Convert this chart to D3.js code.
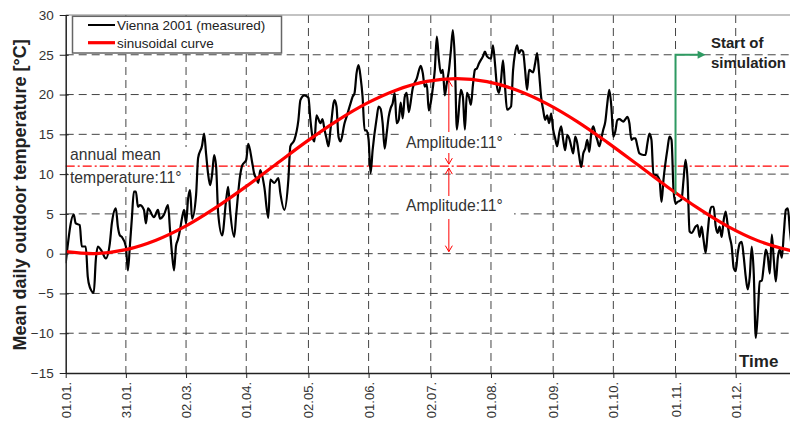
<!DOCTYPE html>
<html><head><meta charset="utf-8">
<script src="https://cdn.jsdelivr.net/npm/d3@7"></script>
<style>
body{margin:0;background:#fff}
svg{display:block;font-family:"Liberation Sans",Arial,Helvetica,sans-serif}
</style>
</head><body>
<svg id="chart" width="790" height="421"></svg>
<script>
// ---- data (day of year 2001, 0 = 1 January) ----
const measuredDays = [
0,4,5,7,8,10,11,12,14,15,16,18,20,22,23,25,26,27,28,30,31,32,33,34,35,36,37,39,40,41,
44,46,47,49,51,52,53,54,55,56,57,58,59,60,61,62,63,65,66,68,69,70,71,72,73,74,75,76,78,80,81,82,84,85,87,88,90,91,93,94,95,96,97,99,101,102,104,106,107,109,111,112,114,116,117,119,121,122,123,124,125,
127,128,129,130,131,132,134,135,136,137,139,140,142,143,144,145,146,147,148,149,150,151,152,153,155,156,157,158,159,160,161,162,163,164,165,166,167,168,169,170,171,172,173,175,177,178,179,180,181,182,183,184,185,186,187,188,189,190,191,192,193,194,195,197,198,199,200,201,202,203,204,205,206,208,209,210,
212,213,214,215,216,217,218,219,220,222,223,224,225,226,227,228,229,230,231,233,234,235,236,237,238,239,240,241,242,243,244,245,246,247,248,249,250,251,252,253,254,255,256,257,258,259,260,261,262,263,264,265,266,267,268,269,270,271,272,273,274,275,276,278,279,280,281,282,283,284,285,286,288,289,290,291,292,293,294,
296,297,298,300,301,302,303,304,305,307,308,309,310,311,312,314,315,316,317,318,319,320,321,322,323,324,325,326,327,328,329,330,331,332,333,334,335,336,337,338,339,340,341,342,343,344,345,346,347,348,349,350,351,352,353,354,355,356,357,358,359,360,361,362];
const measuredTemps = [
-1.2,4.9,3.8,3.6,0.9,0.9,-2.9,-4.2,-4.9,-0.8,0.9,0.3,-0.6,1.3,3.8,5.7,3.4,2.3,2.1,0.9,-2.1,1.0,4.5,7.8,7.8,5.9,6.1,5.5,3.8,5.7,
4.6,5.5,4.4,4.9,6.1,3.0,0.0,-2.1,1.0,1.8,3.0,4.5,5.5,3.8,6.9,8.0,4.4,7.4,12.0,13.6,15.1,12.5,10.0,8.6,10.0,12.4,10.9,5.1,2.3,6.8,8.4,5.3,2.1,4.9,9.9,11.1,11.8,13.8,11.4,10.0,9.5,8.9,10.5,8.4,4.5,9.3,8.9,9.5,7.6,5.5,9.3,13.5,14.3,16.8,19.3,19.9,19.6,16.8,14.7,14.1,17.4,
16.4,16.9,15.6,14.5,13.5,15.6,19.3,18.5,14.7,14.1,16.4,17.2,18.9,19.7,20.2,22.7,23.7,22.2,19.7,15.5,15.5,14.3,10.1,13.0,17.0,18.5,18.2,16.4,13.2,15.1,17.2,18.3,18.9,20.2,16.4,16.8,19.0,17.0,19.7,20.2,17.8,19.1,20.8,22.0,23.6,22.7,21.0,21.3,18.0,19.0,20.8,23.1,27.3,24.5,22.7,23.1,19.9,21.5,23.0,25.5,28.1,24.3,15.6,20.6,19.7,15.6,20.2,19.7,18.7,21.2,23.1,23.3,23.9,24.8,25.4,24.8,
24.5,26.2,23.9,21.0,20.2,21.8,24.3,21.0,18.1,18.5,23.0,25.2,26.2,25.2,25.6,25.4,23.1,20.6,23.1,22.8,23.9,25.2,22.7,19.7,18.1,16.8,17.4,16.4,17.6,15.6,14.5,13.5,15.1,16.0,14.3,13.0,14.9,14.5,13.5,12.6,14.7,13.9,12.2,10.9,12.6,13.2,14.3,12.8,15.1,16.0,15.1,14.3,13.5,14.5,15.6,16.6,18.9,20.6,18.5,14.7,15.4,16.8,16.9,16.6,16.9,17.2,16.4,14.3,14.5,14.5,13.5,12.6,12.4,12.4,13.9,15.1,14.3,9.9,9.9,
9.3,6.5,9.3,13.2,14.7,14.3,8.0,6.3,6.5,6.8,9.3,11.8,9.3,2.8,2.6,3.4,3.6,2.1,3.4,1.7,0.1,2.6,5.1,5.9,5.9,3.5,2.6,3.4,2.1,4.2,5.3,3.6,2.1,0.9,-1.8,-2.2,0.0,1.3,1.5,-0.4,-2.9,-4.5,-2.9,0.9,-2.5,-10.6,-7.5,-3.5,-3.4,-1.5,0.5,-0.4,-2.5,2.4,-0.8,-3.5,-0.5,0.5,-0.5,2.6,5.5,5.7,3.0,0.5];

const sineDays  = [0,15,30,45,60,75,90,105,120,135,150,165,180,195,210,225,240,255,270,285,300,315,330,345,360,365];
const sineTemps = [0.25,0.01,0.51,1.70,3.50,5.82,8.46,11.27,14.08,16.67,18.89,20.58,21.65,22.00,21.63,20.54,18.83,16.60,13.99,11.20,8.38,5.75,3.44,1.64,0.48,0.24];

const tickDays   = [0,30,60,90,121,151,182,212,243,273,304,334];
const tickLabels = ["01.01.","31.01.","02.03.","01.04.","02.05.","01.06.","02.07.","01.08.","01.09.","01.10.","01.11.","01.12."];
const yTicks     = [-15,-10,-5,0,5,10,15,20,25,30];

const annualMean   = 11;
const amplitude    = 11;
const amplitudeDay = 191;
const simStartDay  = 304;
const simArrowEndDay = 319;
const simArrowFrom = 7.5;
const simArrowLevel = 25;

const legendLabels = ["Vienna 2001 (measured)", "sinusoidal curve"];
const yTitle = "Mean daily outdoor temperature [°C]";

(function draw() {
const W = 790;
const pL = 65.7, pT = 15, pB = 373, pR = W;
const svg = d3.select("#chart");

const x = d3.scaleLinear().domain([0, 365]).range([pL, pL + 365 * 2.006]);
const y = d3.scaleLinear().domain([-15, 30]).range([pB, pT]);

svg.append("defs").append("clipPath").attr("id","plot")
  .append("rect").attr("x", pL).attr("y", pT).attr("width", pR - pL).attr("height", pB - pT);

// grid
const grid = svg.append("g");
grid.selectAll("line.h").data(yTicks.filter(v => v > -15 && v < 30)).join("line")
  .attr("class","h")
  .attr("x1", pL).attr("x2", pR).attr("y1", d => y(d)).attr("y2", d => y(d))
  .attr("stroke", "#444").attr("stroke-width", 1).attr("stroke-dasharray", "8,5");
grid.selectAll("line.v").data(tickDays.filter(d => d > 0)).join("line")
  .attr("class","v")
  .attr("x1", d => x(d)).attr("x2", d => x(d)).attr("y1", pT).attr("y2", pB)
  .attr("stroke", "#444").attr("stroke-width", 1).attr("stroke-dasharray", "8,5");

// top border
svg.append("line").attr("x1", pL).attr("x2", pR).attr("y1", pT).attr("y2", pT)
  .attr("stroke", "#888").attr("stroke-width", 1.2);

// amplitude arrows
const red = "#ff0000";
function vArrow(day, v1, v2) {
  const g = svg.append("g").attr("stroke", red).attr("stroke-width", 1).attr("fill", "none");
  const xx = x(day), ya = y(v1) + 2, yb = y(v2) - 2;
  g.append("line").attr("x1", xx).attr("x2", xx).attr("y1", ya).attr("y2", yb);
  g.append("path").attr("d", `M${xx-3.5},${ya+6}L${xx},${ya}L${xx+3.5},${ya+6}`);
  g.append("path").attr("d", `M${xx-3.5},${yb-6}L${xx},${yb}L${xx+3.5},${yb-6}`);
}
vArrow(amplitudeDay, annualMean + amplitude, annualMean);
vArrow(amplitudeDay, annualMean, annualMean - amplitude);

// white boxes behind annotation text
const boxes = [[402, 132, 112, 21], [402, 196, 112, 23], [68, 147, 122, 40]];
svg.selectAll("rect.box").data(boxes).join("rect")
  .attr("class","box")
  .attr("x", d => d[0]).attr("y", d => d[1]).attr("width", d => d[2]).attr("height", d => d[3])
  .attr("fill", "#fff");

const ann = svg.append("g").attr("fill", "#333").style("font-size", "15.7px");
ann.append("text").attr("x", 406).attr("y", 148).text(`Amplitude:${amplitude}°`);
ann.append("text").attr("x", 406).attr("y", 211).text(`Amplitude:${amplitude}°`);
ann.append("text").attr("x", 70).attr("y", 160).text("annual mean");
ann.append("text").attr("x", 70).attr("y", 183).text(`temperature:${annualMean}°`);

// annual mean line
svg.append("line").attr("x1", pL).attr("x2", pR).attr("y1", y(annualMean)).attr("y2", y(annualMean))
  .attr("stroke", red).attr("stroke-width", 1.4).attr("stroke-dasharray", "9,3,2,3");

const plot = svg.append("g").attr("clip-path", "url(#plot)");
const measured = d3.zip(measuredDays, measuredTemps);
plot.append("path").datum(measured)
  .attr("d", d3.line().x(d => x(d[0])).y(d => y(d[1])).curve(d3.curveMonotoneX))
  .attr("fill", "none").attr("stroke", "#000").attr("stroke-width", 2.2).attr("stroke-linejoin", "round");

const sine = d3.zip(sineDays, sineTemps);
plot.append("path").datum(sine)
  .attr("d", d3.line().x(d => x(d[0])).y(d => y(d[1])).curve(d3.curveCatmullRom))
  .attr("fill", "none").attr("stroke", red).attr("stroke-width", 3.2);

// start of simulation arrow
const green = "#2e9a62";
const sx = x(simStartDay), sy0 = y(simArrowFrom), sy1 = y(simArrowLevel), ex = x(simArrowEndDay);
svg.append("path").attr("d", `M${sx},${sy0}V${sy1}H${ex - 6}`)
  .attr("fill", "none").attr("stroke", green).attr("stroke-width", 2);
svg.append("path").attr("d", `M${ex},${sy1}L${ex-8},${sy1-4}L${ex-8},${sy1+4}Z`).attr("fill", green);
svg.append("text").attr("x", 711).attr("y", 48).attr("font-weight", "bold").attr("fill", "#222")
  .style("font-size", "15px").text("Start of");
svg.append("text").attr("x", 711).attr("y", 68).attr("font-weight", "bold").attr("fill", "#222")
  .style("font-size", "15px").text("simulation");

// axes
const ax = svg.append("g").attr("transform", `translate(${pL},0)`)
  .call(d3.axisLeft(y).tickValues(yTicks).tickSize(6).tickSizeOuter(0).tickPadding(6));
ax.select(".domain").attr("stroke", "#222").attr("stroke-width", 1.5);
ax.selectAll(".tick line").attr("stroke", "#222").attr("x1", 3).attr("x2", -6);
ax.selectAll("text").attr("fill", "#333").style("font-size", "13.5px").style("font-family", "inherit");

const bx = svg.append("g").attr("transform", `translate(0,${pB})`)
  .call(d3.axisBottom(x).tickValues(tickDays).tickFormat((d, i) => tickLabels[i]).tickSize(5).tickSizeOuter(0));
bx.select(".domain").attr("stroke", "#222").attr("stroke-width", 1.5);
bx.selectAll(".tick line").attr("stroke", "#222");
bx.selectAll("text").attr("fill", "#333").style("font-size", "13px").style("font-family", "inherit")
  .attr("transform", "rotate(-90)").attr("x", -9).attr("y", 0).attr("dy", "0.35em")
  .style("text-anchor", "end");

svg.append("text").attr("transform", "translate(25.5,195) rotate(-90)")
  .attr("text-anchor", "middle").attr("font-weight", "bold").attr("fill", "#222")
  .style("font-size", "18px").text(yTitle);

svg.append("text").attr("x", 739).attr("y", 367).attr("font-weight", "bold").attr("fill", "#222")
  .style("font-size", "17px").text("Time");

// legend
const lg = svg.append("g");
lg.append("rect").attr("x", 72.5).attr("y", 16.3).attr("width", 209).attr("height", 36.7)
  .attr("fill", "#fff").attr("stroke", "#666").attr("stroke-width", 1.5);
const legendColors = ["#000", red], legendWidths = [2, 3.2], legendY = [25, 42.7];
legendLabels.forEach((lab, i) => {
  lg.append("line").attr("x1", 88).attr("x2", 115).attr("y1", legendY[i]).attr("y2", legendY[i])
    .attr("stroke", legendColors[i]).attr("stroke-width", legendWidths[i]);
  lg.append("text").attr("x", 117).attr("y", legendY[i] + 4.8).attr("fill", "#222")
    .style("font-size", "13.5px").text(lab);
});
})();
</script>
</body></html>
